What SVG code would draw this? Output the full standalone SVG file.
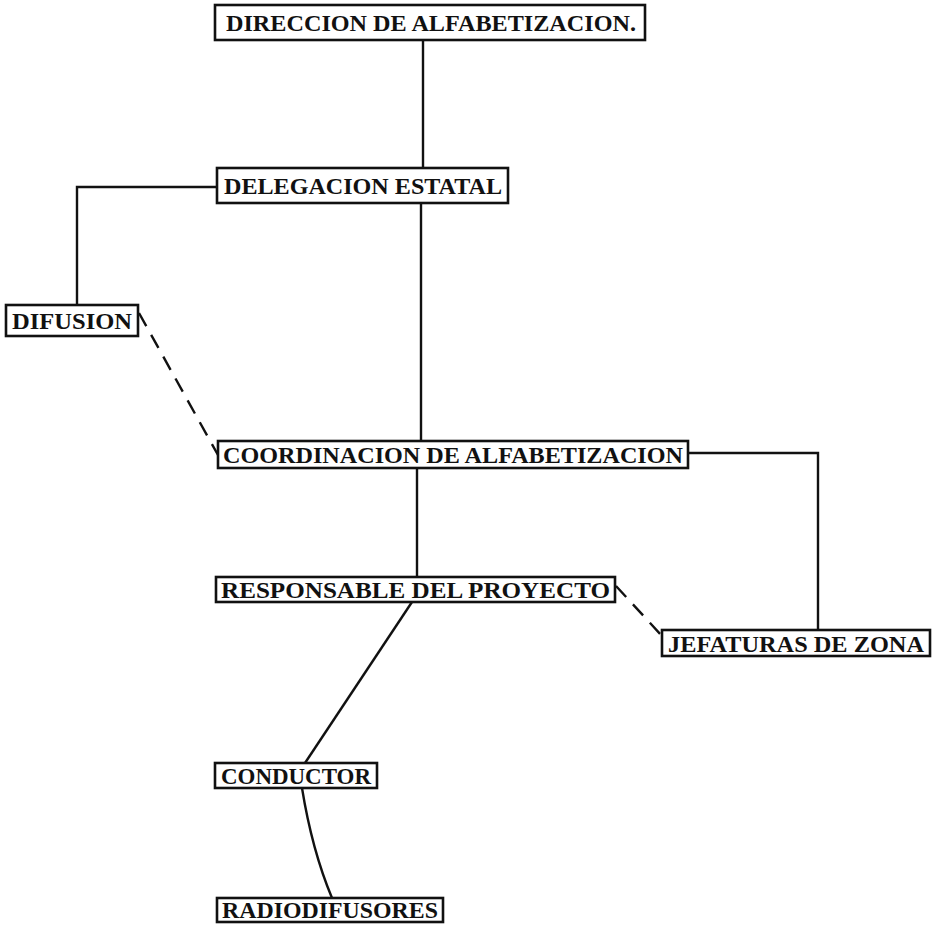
<svg xmlns="http://www.w3.org/2000/svg" width="939" height="927" viewBox="0 0 939 927">
<style>
.box{fill:#fff;stroke:#111;stroke-width:2.6}
.t{font-family:"Liberation Serif","DejaVu Serif",serif;font-weight:bold;font-size:23.5px;fill:#111}
.ln{fill:none;stroke:#111;stroke-width:2.4}
.dash{fill:none;stroke:#111;stroke-width:2.4;stroke-dasharray:15 10}
</style>
<rect width="939" height="927" fill="#fff"/>
<g id="connectors">
<path class="ln" d="M423 40 V168"/>
<path class="ln" d="M421 203 V441"/>
<path class="ln" d="M217 187 H77 V305"/>
<path class="dash" d="M139 313 L218 455"/>
<path class="ln" d="M688 453 H818 V630"/>
<path class="ln" d="M417 468 V577"/>
<path class="dash" d="M616 586 L662 636"/>
<path class="ln" d="M412 602 L305 763"/>
<path class="ln" d="M302 788 Q312 850 332 898"/>
</g>
<g id="direccion"><rect class="box" x="215" y="5" width="430" height="35"/><text class="t" x="226" y="31" textLength="410" lengthAdjust="spacingAndGlyphs">DIRECCION DE ALFABETIZACION.</text></g>
<g id="delegacion"><rect class="box" x="217" y="168" width="291" height="35"/><text class="t" x="224" y="194" textLength="278" lengthAdjust="spacingAndGlyphs">DELEGACION ESTATAL</text></g>
<g id="difusion"><rect class="box" x="6" y="305" width="132" height="31"/><text class="t" x="12" y="329" textLength="120" lengthAdjust="spacingAndGlyphs">DIFUSION</text></g>
<g id="coordinacion"><rect class="box" x="218" y="441" width="470" height="27"/><text class="t" x="223" y="463" textLength="460" lengthAdjust="spacingAndGlyphs">COORDINACION DE ALFABETIZACION</text></g>
<g id="responsable"><rect class="box" x="216" y="577" width="399" height="25"/><text class="t" x="221" y="598" textLength="389" lengthAdjust="spacingAndGlyphs">RESPONSABLE DEL PROYECTO</text></g>
<g id="jefaturas"><rect class="box" x="662" y="630" width="268" height="26"/><text class="t" x="668" y="651.5" textLength="256" lengthAdjust="spacingAndGlyphs">JEFATURAS DE ZONA</text></g>
<g id="conductor"><rect class="box" x="215" y="763" width="162" height="25"/><text class="t" x="221" y="784" textLength="150" lengthAdjust="spacingAndGlyphs">CONDUCTOR</text></g>
<g id="radiodifusores"><rect class="box" x="217" y="898" width="226" height="24"/><text class="t" x="222" y="918" textLength="216" lengthAdjust="spacingAndGlyphs">RADIODIFUSORES</text></g>
</svg>
